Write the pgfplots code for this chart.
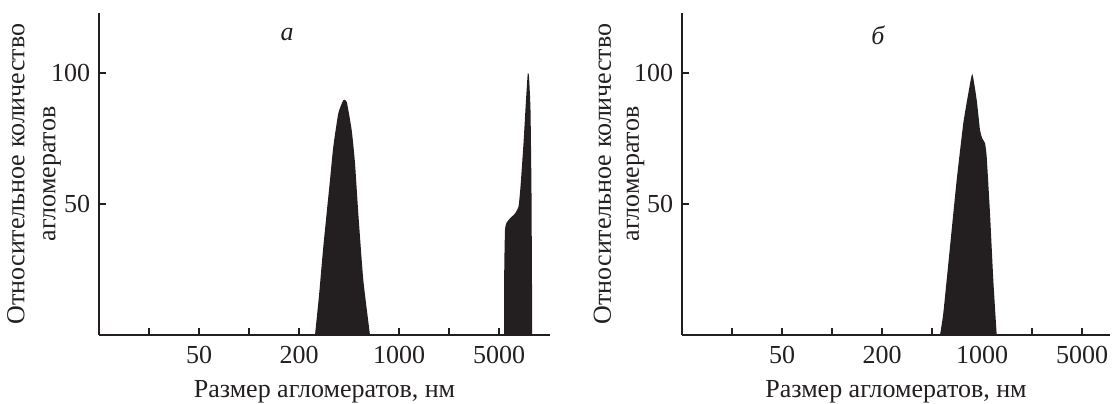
\documentclass[border=0pt]{standalone}
\usepackage{pgfplots}
\pgfplotsset{compat=1.18}
\usepackage{fontspec}
\setmainfont{Liberation Serif}
\definecolor{ink}{RGB}{35,31,32}
\pgfplotstableread{
x y
4.32 0
4.40 15
4.486 33.7
4.62 59.2
4.686 71.9
4.786 84.6
4.886 89.6
4.954 89
5.054 78.2
5.12 65.6
5.186 46.4
5.286 21
5.42 0
}\peakA
\pgfplotstableread{
x y
8.10 0
8.105 25
8.12 40
8.15 42.8
8.22 44.5
8.32 46.4
8.39 49
8.43 56.6
8.49 73.2
8.54 89.7
8.575 99.8
8.60 98.6
8.63 85.9
8.65 54
8.665 0
}\peakB
\pgfplotstableread{
x y
5.16 0
5.226 8.3
5.36 33.7
5.494 59.2
5.626 80.8
5.726 92.2
5.806 99.6
5.894 89.7
5.96 78.2
6.006 75
6.06 73.2
6.094 68
6.16 46.4
6.226 21
6.294 0
}\peakC
\begin{document}
\fontsize{26}{30}\selectfont
\begin{tikzpicture}
\useasboundingbox (0,0) rectangle (1112pt,404pt);
\pgfplotsset{
  every axis/.style={
    scale only axis,
    height=322pt,
    ymin=0, ymax=122.9,
    xmin=0,
    axis lines=left,
    axis line style={-, line width=1.4pt, color=ink},
    tick style={line width=1.2pt, color=ink},
    tick align=inside,
    major tick length=7pt,
    xtick={1,2,3,4,5,6,7,8},
    xticklabels={,50,,200,,1000,,5000},
    ytick={50,100},
    ticklabel style={font=\fontsize{26}{30}\selectfont, color=ink},
    xticklabel style={yshift=-2pt},
    yticklabel style={xshift=0pt},
    label style={font=\fontsize{26}{30}\selectfont, color=ink},
    /pgf/number format/assume math mode=true,
    xlabel={Размер агломератов, нм},
    ylabel={Относительное количество\\агломератов},
    clip=false,
    anchor=south west,
  },
}
\begin{axis}[at={(99pt,69pt)}, width=451pt, xmax=9.02,
  ylabel style={at={(axis description cs:-0.097,0.5)}, anchor=base, align=center, inner sep=0pt, font=\fontsize{26}{31}\selectfont}]
\addplot[fill=ink, draw=none, smooth, tension=0.3] table[x=x,y=y] {\peakA} \closedcycle;
\addplot[fill=ink, draw=none, smooth, tension=0.3] table[x=x,y=y] {\peakB} \closedcycle;
\node[font=\itshape, text=ink] at (axis cs:3.76,114.5) {а};
\end{axis}
\begin{axis}[at={(682pt,69pt)}, width=428pt, xmax=8.56,
  ylabel style={at={(axis description cs:-0.101,0.5)}, anchor=base, align=center, inner sep=0pt, font=\fontsize{26}{28}\selectfont}]
\addplot[fill=ink, draw=none, smooth, tension=0.3] table[x=x,y=y] {\peakC} \closedcycle;
\node[font=\itshape, text=ink] at (axis cs:3.92,114.5) {б};
\end{axis}
\end{tikzpicture}
\end{document}
